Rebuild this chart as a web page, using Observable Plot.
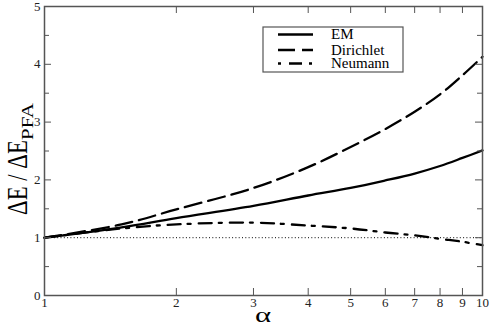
<!DOCTYPE html>
<html>
<head>
<meta charset="utf-8">
<script src="https://cdn.jsdelivr.net/npm/d3@7"></script>
<script src="https://cdn.jsdelivr.net/npm/@observablehq/plot@0.6"></script>
<style>
  body { margin: 0; background: #fff; }
  svg { display: block; }
</style>
</head>
<body>
<div id="chart"></div>
<script>
const alpha = [1, 1.5, 2, 3, 4, 5, 6, 7, 8, 9, 10];
const em = [1.0, 1.18, 1.34, 1.55, 1.73, 1.86, 1.99, 2.11, 2.24, 2.38, 2.51];
const dirichlet = [1.0, 1.23, 1.49, 1.86, 2.22, 2.57, 2.88, 3.18, 3.48, 3.81, 4.13];
const neumann = [1.0, 1.16, 1.23, 1.26, 1.21, 1.16, 1.09, 1.04, 0.98, 0.93, 0.87];
const xTicks = [1, 2, 3, 4, 5, 6, 7, 8, 9, 10];
const yTicks = [0, 1, 2, 3, 4, 5];
const yMinorTicks = [0.5, 1.5, 2.5, 3.5, 4.5];
const seriesNames = ["EM", "Dirichlet", "Neumann"];

// pick an installed serif face (falls back gracefully)
function pickFont(cands) {
  const ctx = document.createElement("canvas").getContext("2d");
  const sample = "Dirichlet Neumann 0123456789 ΔEα";
  for (const base of ["monospace", "sans-serif"]) {
    ctx.font = `20px ${base}`;
    const w0 = ctx.measureText(sample).width;
    for (const c of cands) {
      ctx.font = `20px '${c}', ${base}`;
      if (Math.abs(ctx.measureText(sample).width - w0) > 0.5) return `'${c}', serif`;
    }
  }
  return "serif";
}
const serif = pickFont(["Liberation Serif", "DejaVu Serif", "Noto Serif", "Times New Roman", "Times"]);

const W = 491, H = 327;
const mL = 44, mR = 9, mT = 6, mB = 32;
const fw = W - mL - mR, fh = H - mT - mB;
const axisColor = "#555";
const dashes = {EM: null, Dirichlet: "17,7", Neumann: "13,7,3,8"};

const rows = (ys) => alpha.map((a, i) => ({a, v: ys[i]}));

const plot = Plot.plot({
  width: W, height: H,
  marginLeft: mL, marginRight: mR, marginTop: mT, marginBottom: mB,
  style: {fontFamily: serif, background: "#fff", overflow: "visible"},
  x: {type: "log", domain: [1, 10], axis: null},
  y: {domain: [0, 5], axis: null},
  marks: [
    Plot.ruleY([1], {stroke: "#000", strokeWidth: 1, strokeDasharray: "1,2.3"}),
    Plot.line(rows(em), {x: "a", y: "v", stroke: "#000", strokeWidth: 2.3, curve: "catmull-rom"}),
    Plot.line(rows(dirichlet), {x: "a", y: "v", stroke: "#000", strokeWidth: 2.3, curve: "catmull-rom", strokeDasharray: dashes.Dirichlet}),
    Plot.line(rows(neumann), {x: "a", y: "v", stroke: "#000", strokeWidth: 2.3, curve: "catmull-rom", strokeDasharray: dashes.Neumann}),
    // inward ticks, bottom and top
    Plot.ruleX(xTicks, {x: d => d, stroke: axisColor, strokeWidth: 1, insetTop: fh - 7}),
    Plot.ruleX(xTicks, {x: d => d, stroke: axisColor, strokeWidth: 1, insetBottom: fh - 7}),
    // inward ticks, left and right
    Plot.ruleY(yTicks, {y: d => d, stroke: axisColor, strokeWidth: 1, insetRight: fw - 7}),
    Plot.ruleY(yTicks, {y: d => d, stroke: axisColor, strokeWidth: 1, insetLeft: fw - 7}),
    Plot.ruleY(yMinorTicks, {y: d => d, stroke: axisColor, strokeWidth: 1, insetRight: fw - 5}),
    Plot.ruleY(yMinorTicks, {y: d => d, stroke: axisColor, strokeWidth: 1, insetLeft: fw - 5}),
    // tick labels
    Plot.text(xTicks, {x: d => d, frameAnchor: "bottom", text: d => String(d), dy: 11, fontSize: 13, fill: "#222", fontFamily: serif}),
    Plot.text(yTicks, {y: d => d, frameAnchor: "left", text: d => String(d), dx: -4, textAnchor: "end", fontSize: 13, fill: "#222", fontFamily: serif}),
    Plot.frame({stroke: axisColor, strokeWidth: 1.5})
  ]
});

document.getElementById("chart").appendChild(plot);

const svg = d3.select(plot);
// y axis label with subscript
svg.append("text")
  .attr("transform", "translate(27,215) rotate(-90)")
  .attr("text-anchor", "start")
  .attr("font-family", serif).attr("font-size", 30)
  .attr("textLength", 75).attr("lengthAdjust", "spacingAndGlyphs")
  .attr("fill", "#000")
  .text("ΔE / ΔE");
svg.append("text")
  .attr("transform", "translate(33,140) rotate(-90)")
  .attr("text-anchor", "start")
  .attr("font-family", serif).attr("font-size", 16.5)
  .attr("textLength", 37).attr("lengthAdjust", "spacingAndGlyphs")
  .attr("fill", "#000")
  .text("PFA");
// x axis label
svg.append("text")
  .attr("transform", `translate(${mL + fw / 2},322) scale(1.4,1)`)
  .attr("text-anchor", "middle")
  .attr("font-family", serif).attr("font-size", 22)
  .attr("fill", "#000")
  .text("α");

// legend
const lg = svg.append("g");
lg.append("rect").attr("x", 263).attr("y", 27).attr("width", 140).attr("height", 45)
  .attr("fill", "#fff").attr("stroke", axisColor).attr("stroke-width", 1.2);
const rowY = [34.5, 50, 63.5];
seriesNames.forEach((name, i) => {
  const ln = lg.append("line")
    .attr("x1", 278).attr("x2", 313).attr("y1", rowY[i]).attr("y2", rowY[i])
    .attr("stroke", "#000").attr("stroke-width", 2.3);
  if (dashes[name]) ln.attr("stroke-dasharray", dashes[name]);
  if (name === "Neumann") ln.attr("stroke-dashoffset", 20);
  lg.append("text")
    .attr("x", 331).attr("y", rowY[i] + 4.5)
    .attr("text-anchor", "start")
    .attr("font-family", serif).attr("font-size", 15)
    .attr("fill", "#000")
    .text(name);
});
</script>
</body>
</html>
